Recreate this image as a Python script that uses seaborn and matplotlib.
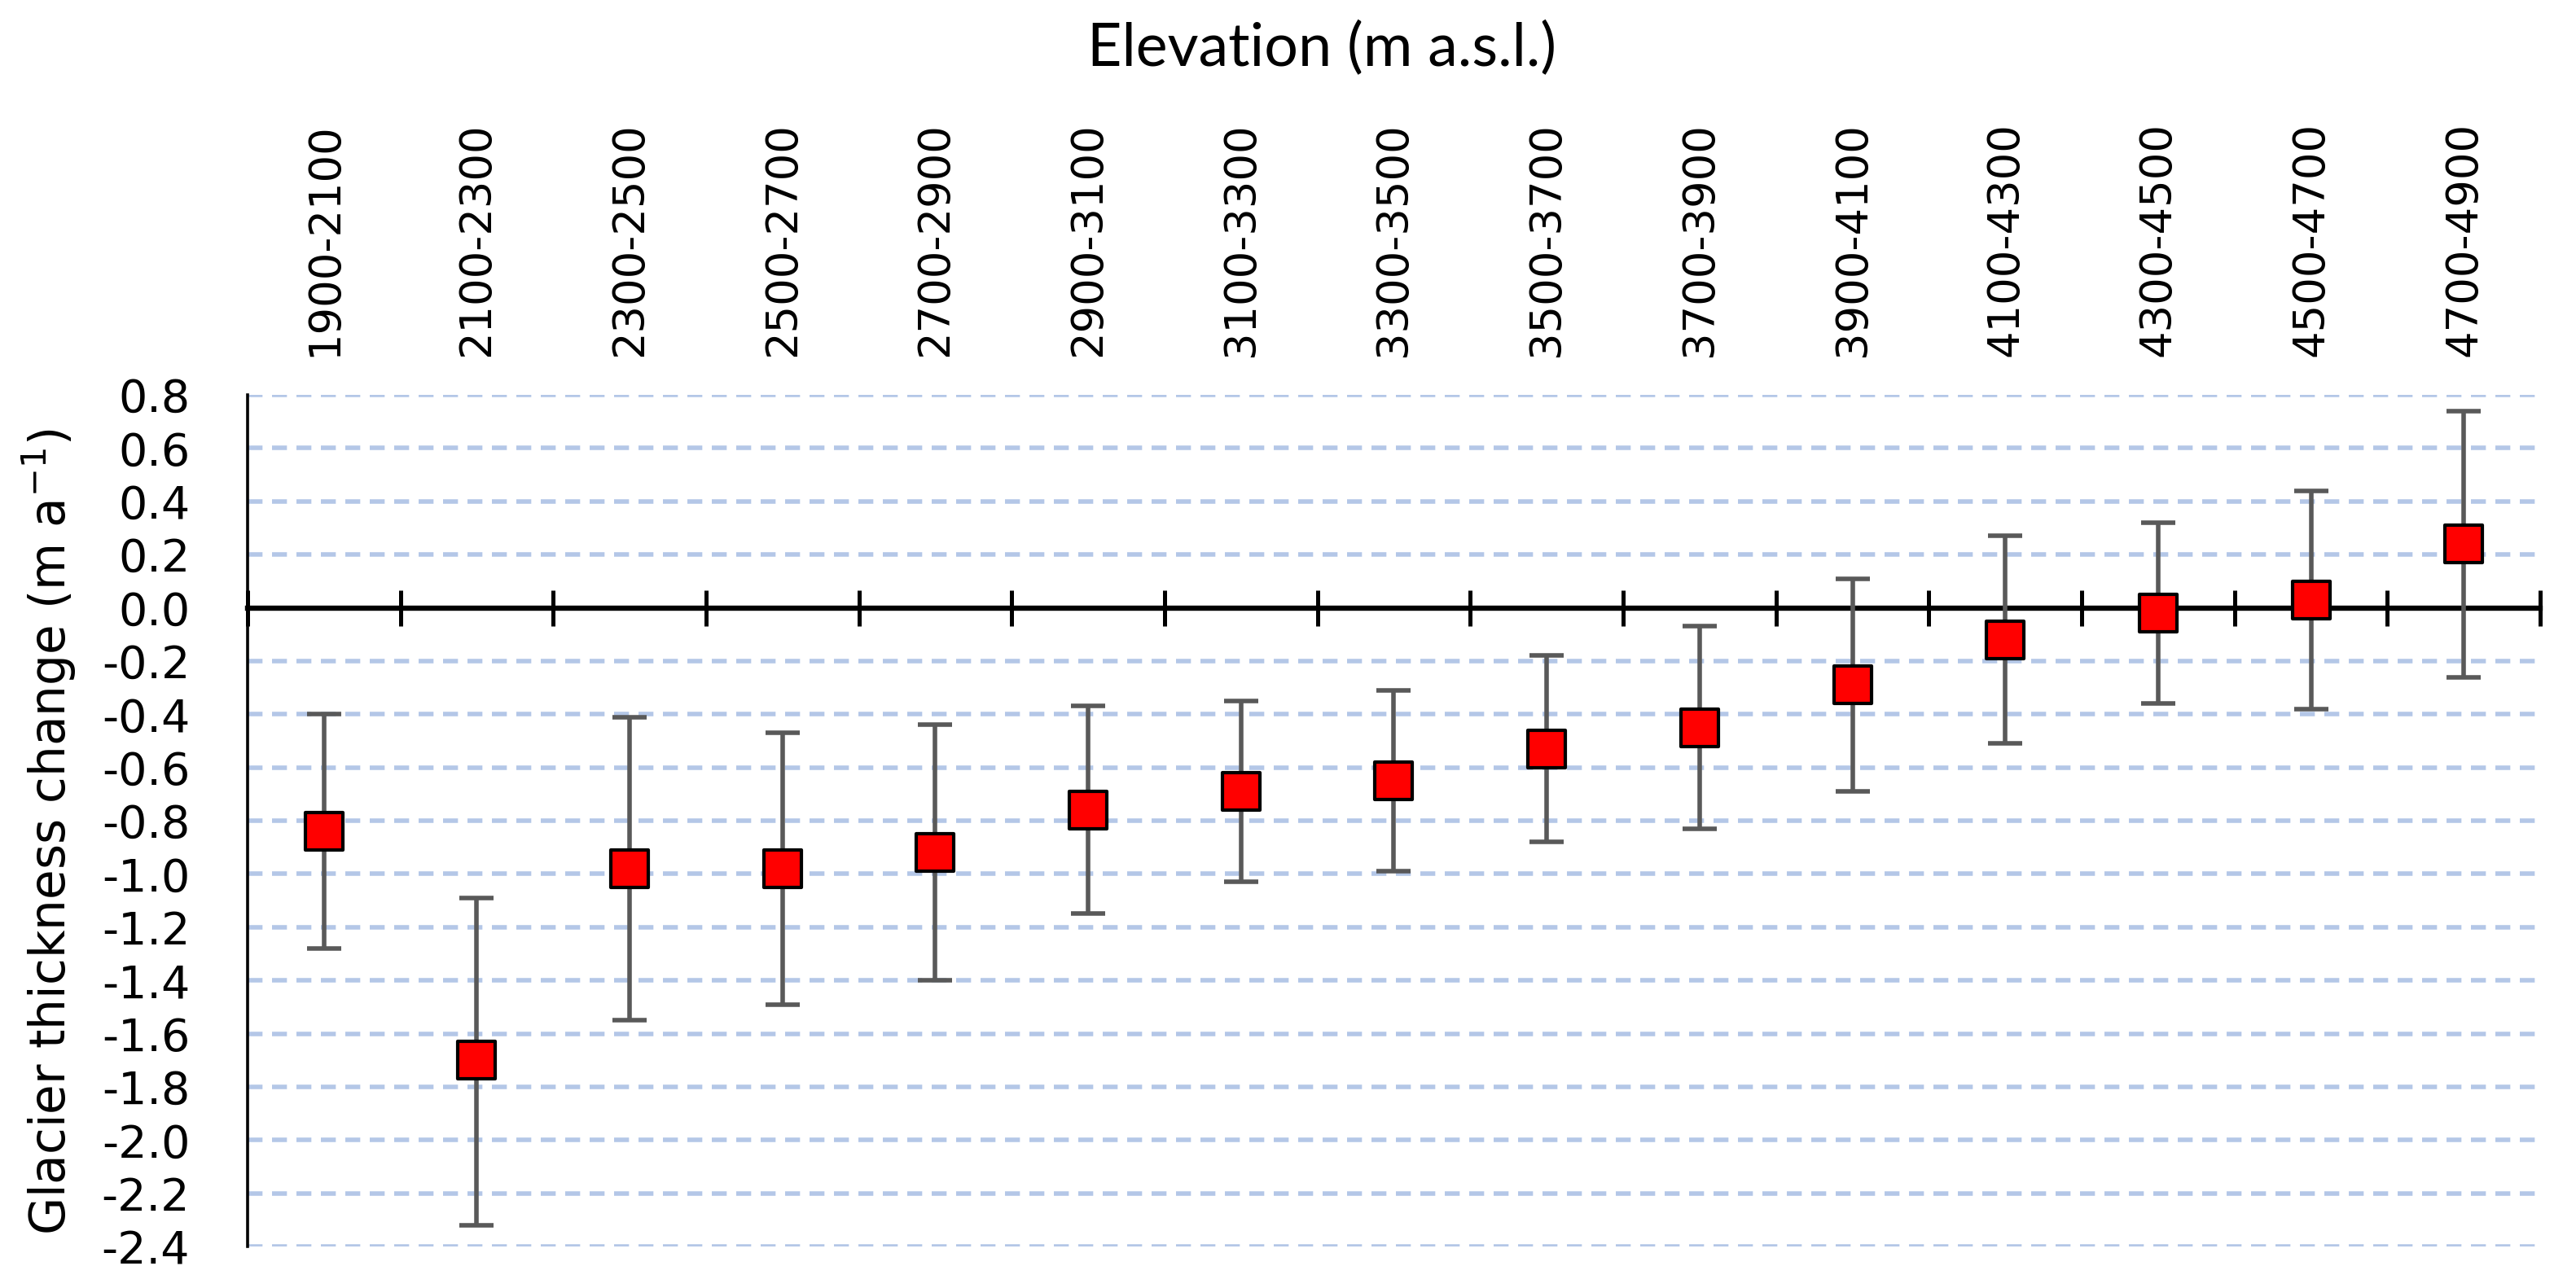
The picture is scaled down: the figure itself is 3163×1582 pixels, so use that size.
import matplotlib
matplotlib.use('Agg')
import matplotlib.pyplot as plt
from matplotlib.ticker import FixedLocator
import seaborn as sns
import numpy as np
import pandas as pd

# elevation bands (m a.s.l.)
BANDS = ['1900-2100', '2100-2300', '2300-2500', '2500-2700', '2700-2900',
         '2900-3100', '3100-3300', '3300-3500', '3500-3700', '3700-3900',
         '3900-4100', '4100-4300', '4300-4500', '4500-4700', '4700-4900']
# mean thickness change and the upper / lower bounds (m a-1)
MEAN = [-0.84, -1.70, -0.98, -0.98, -0.92, -0.76, -0.69, -0.65, -0.53, -0.45,
        -0.29, -0.12, -0.02, 0.03, 0.24]
UPPER = [-0.40, -1.09, -0.41, -0.47, -0.44, -0.37, -0.35, -0.31, -0.18, -0.07,
         0.11, 0.27, 0.32, 0.44, 0.74]
LOWER = [-1.28, -2.32, -1.55, -1.49, -1.40, -1.15, -1.03, -0.99, -0.88, -0.83,
         -0.69, -0.51, -0.36, -0.38, -0.26]
YTICKS = np.round(np.arange(-2.4, 0.81, 0.2), 1)

sns.set_style('white')
plt.rcParams.update({
    'font.family': ['DejaVu Sans'],
    'axes.unicode_minus': False,
    'text.color': 'black',
    'axes.labelcolor': 'black',
    'xtick.color': 'black',
    'ytick.color': 'black',
})

df = pd.DataFrame({'band': BANDS, 'mean': MEAN, 'upper': UPPER, 'lower': LOWER})
n = len(BANDS)

fig = plt.figure(figsize=(15.815, 7.91), dpi=200)
ax = fig.add_axes([0.0961, 0.0322, 0.8900, 0.6612])

ax.errorbar(df['band'], df['mean'],
            yerr=[df['mean'] - df['lower'], df['upper'] - df['mean']],
            fmt='none', ecolor='#595959', elinewidth=2.0,
            capsize=7.5, capthick=2.0, zorder=3)
sns.scatterplot(data=df, x='band', y='mean', marker='s', s=265,
                color='#ff0000', edgecolor='black', linewidth=1.5,
                zorder=4, ax=ax, legend=False)

ax.set_xlim(-0.5, n - 0.5)
ax.set_ylim(-2.4, 0.8)

# dashed horizontal grid
ax.yaxis.grid(True, color='#b4c7e7', linestyle=(0, (3.3, 2.1)), linewidth=2.0)
ax.xaxis.grid(False)
ax.set_axisbelow(True)

# x axis drawn through zero, labels on top
for s in ('top', 'right'):
    ax.spines[s].set_visible(False)
ax.spines['bottom'].set_position(('data', 0))
ax.spines['bottom'].set_linewidth(2.3)
ax.spines['bottom'].set_color('black')
ax.spines['left'].set_linewidth(1.3)
ax.spines['left'].set_color('black')

ax.set_xticks(np.arange(n), BANDS)
ax.xaxis.set_minor_locator(FixedLocator(np.arange(n + 1) - 0.5))
ax.tick_params(axis='x', which='major', length=0, bottom=False, top=False,
               labelbottom=False, labeltop=True, labelsize=19, rotation=90, pad=17,
               labelcolor='black')
ax.tick_params(axis='x', which='minor', direction='inout', length=16, width=1.8,
               bottom=True, top=False, color='black')

ax.set_yticks(YTICKS, [f'{v + 0.0:.1f}' for v in YTICKS])
ax.tick_params(axis='y', direction='inout', length=15, width=1.2, color='black',
               labelsize=20, pad=18, labelcolor='black')

ax.set_xlabel('')
ax.set_ylabel('Glacier thickness change (m a$^{-1}$)', fontsize=21.5, color='black')
ax.yaxis.set_label_coords(-0.074, 0.487)

fig.text(0.513, 0.962, 'Elevation (m a.s.l.)', ha='center', va='center',
         fontsize=26.5, color='black', family=['Lato', 'DejaVu Sans'])

fig.savefig('out.png', dpi=200)
